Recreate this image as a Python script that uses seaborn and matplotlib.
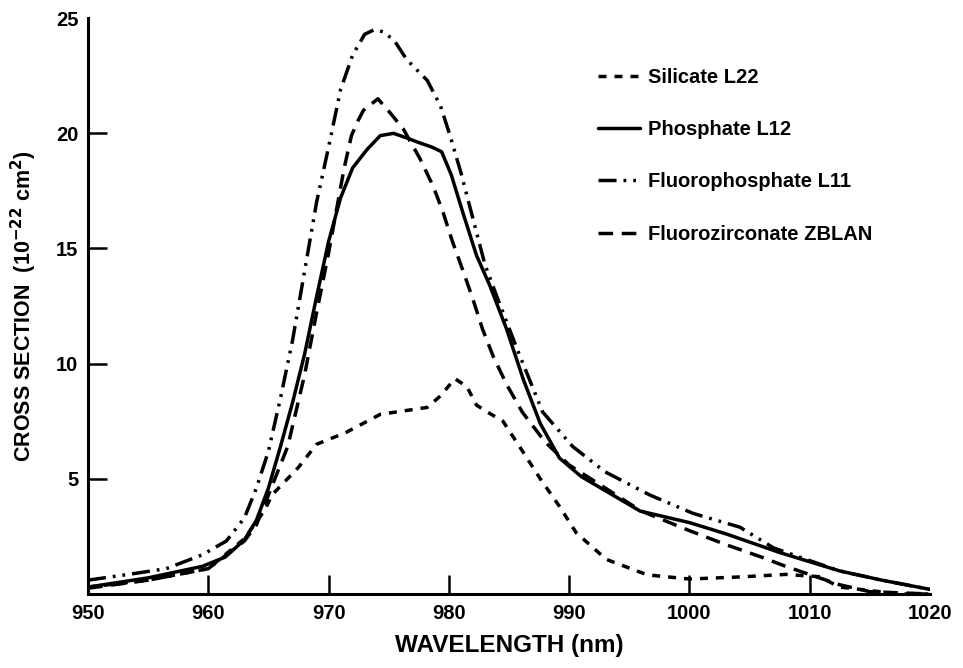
import matplotlib
matplotlib.use("Agg")
import matplotlib.pyplot as plt
import seaborn as sns
import pandas as pd

# Absorption cross section of Yb-doped glasses (10^-22 cm^2) vs wavelength (nm)
wl_fluorophosphate = [950, 954, 956.5, 959.5, 961.5, 963, 964, 965, 966, 967, 968, 969, 970, 971, 972, 973, 973.8,
                      974.6, 975.5, 976.5, 978.2, 979.3, 980.1, 981, 982, 983, 984, 985.7, 987.8, 990.3, 993,
                      996.7, 1000.3, 1004.2, 1007, 1010, 1012.5, 1016, 1020]
cs_fluorophosphate = [0.6, 0.9, 1.1, 1.7, 2.3, 3.3, 4.6, 6.2, 8.5, 11.0, 14.0, 17.0, 19.4, 21.9, 23.4, 24.3, 24.5,
                      24.4, 24.0, 23.2, 22.3, 21.2, 19.9, 18.3, 16.3, 14.3, 12.9, 10.6, 7.9, 6.4, 5.3,
                      4.3, 3.5, 2.9, 2.0, 1.45, 1.0, 0.6, 0.2]

wl_phosphate = [950, 955, 959.5, 961.4, 963, 964, 965, 966, 967, 968, 969, 970, 971, 972, 973.2, 974.3, 975.4,
                976.5, 977.5, 978.6, 979.4, 980.2, 981.2, 982.3, 983.4, 984.8, 986.2, 987.6, 989.2, 991,
                995.9, 1000, 1003.1, 1007.5, 1012.5, 1016, 1020]
cs_phosphate = [0.3, 0.7, 1.2, 1.6, 2.35, 3.2, 4.6, 6.4, 8.3, 10.4, 12.9, 15.3, 17.2, 18.5, 19.3, 19.9, 20.0,
                19.8, 19.6, 19.4, 19.2, 18.2, 16.5, 14.7, 13.4, 11.5, 9.3, 7.4, 5.9, 5.1,
                3.6, 3.1, 2.6, 1.8, 1.0, 0.6, 0.2]

wl_zblan = [950, 955, 960, 963, 964, 965, 966.6, 968, 969, 970, 970.7, 971.3, 971.9, 972.4, 972.9, 974.1, 975.1,
            976.2, 977.6, 978.7, 979.5, 980.3, 981.2, 982, 982.8, 983.7, 984.8, 986.1, 988, 990, 993, 996,
            1000, 1003, 1006, 1008, 1012.5, 1015, 1020]
cs_zblan = [0.25, 0.6, 1.1, 2.3, 3.0, 4.3, 6.4, 9.5, 12.2, 14.8, 16.8, 18.5, 19.9, 20.5, 21.0, 21.5, 20.9,
            20.2, 18.9, 17.7, 16.6, 15.3, 14.0, 12.8, 11.5, 10.3, 9.1, 7.9, 6.6, 5.6, 4.6, 3.6,
            2.75, 2.15, 1.6, 1.2, 0.4, 0.1, 0.0]

wl_silicate = [950, 955, 960, 963, 964.7, 965.3, 967.5, 969, 971.4, 974.3, 978.2, 979.3, 980.5, 981.5, 982.3,
               983.2, 984.5, 986, 987.6, 989.2, 990.6, 993.1, 996.5, 1000, 1004.2, 1008, 1010.8, 1012.5,
               1017.5, 1020]
cs_silicate = [0.3, 0.6, 1.1, 2.4, 3.65, 4.3, 5.5, 6.5, 7.0, 7.8, 8.1, 8.6, 9.35, 9.0, 8.2,
               7.9, 7.5, 6.3, 5.0, 3.8, 2.65, 1.5, 0.83, 0.65, 0.74, 0.85, 0.75, 0.3,
               0.0, 0.0]

x_ticks = [950, 960, 970, 980, 990, 1000, 1010, 1020]
y_ticks = [5, 10, 15, 20, 25]

sns.set_theme(style="ticks", rc={"text.color": "black", "axes.labelcolor": "black",
                                 "xtick.color": "black", "ytick.color": "black",
                                 "axes.edgecolor": "black"})
plt.rcParams["font.family"] = ["Liberation Sans", "DejaVu Sans"]
plt.rcParams["font.weight"] = "bold"
plt.rcParams["mathtext.default"] = "bf"

fig = plt.figure(figsize=(9.63, 6.68), dpi=100)
ax = fig.add_axes([0.0914, 0.1108, 0.8743, 0.862])

series = [
    ("Silicate L22", wl_silicate, cs_silicate, (0, (2.3, 2.3))),
    ("Phosphate L12", wl_phosphate, cs_phosphate, "-"),
    ("Fluorophosphate L11", wl_fluorophosphate, cs_fluorophosphate, (0, (5.2, 2.0, 0.8, 2.0, 0.8, 2.0))),
    ("Fluorozirconate ZBLAN", wl_zblan, cs_zblan, (0, (4.2, 2.5))),
]

for name, wl, cs, ls in series:
    df = pd.DataFrame({"wl": wl, "cs": cs})
    sns.lineplot(data=df, x="wl", y="cs", ax=ax, color="black", linewidth=2.5,
                 linestyle=ls, label=name, estimator=None, sort=False)

ax.set_xlim(950, 1020)
ax.set_ylim(0, 25)
ax.set_xticks(x_ticks)
ax.set_yticks(y_ticks)
ax.tick_params(direction="in", length=13.5, width=1.8, labelsize=14.5, pad=7, colors="black")
for lbl in ax.get_xticklabels() + ax.get_yticklabels():
    lbl.set_fontweight("bold")
# no tick marks at the axis ends
xt = ax.xaxis.get_major_ticks()
xt[0].tick1line.set_visible(False)
xt[-1].tick1line.set_visible(False)
ax.yaxis.get_major_ticks()[-1].tick1line.set_visible(False)

sns.despine(ax=ax)
for sp in ("left", "bottom"):
    ax.spines[sp].set_linewidth(2.2)
    ax.spines[sp].set_color("black")

ax.set_xlabel("WAVELENGTH (nm)", fontsize=17.5, fontweight="bold", labelpad=8)
ax.set_ylabel("CROSS SECTION  (10$^{-22}$ cm$^{2}$)", fontsize=15.5,
              fontweight="bold", labelpad=12)

leg = ax.legend(loc="upper left", bbox_to_anchor=(598 / 963, 1 - 68 / 668),
                bbox_transform=fig.transFigure, frameon=False, borderpad=0, borderaxespad=0,
                fontsize=14.5, handlelength=2.1, labelspacing=1.65, handletextpad=0.4)
for t in leg.get_texts():
    t.set_fontweight("bold")

fig.savefig("out.png", dpi=100)
